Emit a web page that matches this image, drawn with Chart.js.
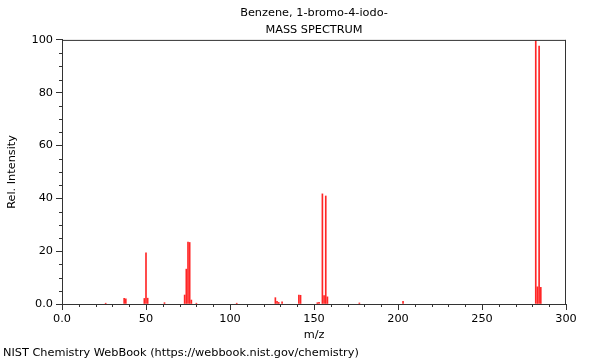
<!DOCTYPE html>
<html>
<head>
<meta charset="utf-8">
<script src="https://cdn.jsdelivr.net/npm/chart.js@4.4.1/dist/chart.umd.min.js"></script>
<style>
  html, body { margin: 0; padding: 0; background: #fff; }
  #c { display: block; }
</style>
</head>
<body>
<canvas id="c" width="600" height="360"></canvas>
<script>
// ---- data ----
const titleLines = ['Benzene, 1-bromo-4-iodo-', 'MASS SPECTRUM'];
const footerText = 'NIST Chemistry WebBook (https://webbook.nist.gov/chemistry)';
const mz =        [26,  37,  38,  49,  50,   51,  61,  73,  74,   75,   76,   77,  80,  104, 127, 128, 129, 131, 141, 142, 152, 153, 155,  156, 157,  158, 177, 203, 282, 283, 284,  285];
const intensity = [0.3, 2.1, 2.0, 2.1, 19.4, 2.2, 0.5, 3.4, 13.2, 23.4, 23.3, 1.5, 0.3, 0.3, 2.4, 1.0, 0.6, 0.8, 3.4, 3.3, 0.5, 0.6, 41.7, 3.2, 40.9, 2.7, 0.4, 1.0, 100, 6.5, 97.7, 6.3];
const xTicks = [0, 50, 100, 150, 200, 250, 300];
const yTicks = [0, 20, 40, 60, 80, 100];

const FONT = 'DejaVu Sans';
const FS = 11.3;
const points = mz.map((m, i) => ({ x: m, y: intensity[i] }));

const frame = {
  id: 'frame',
  afterDraw(chart) {
    const { ctx, chartArea: { left, right, top, bottom }, scales: { x, y } } = chart;
    ctx.save();
    ctx.strokeStyle = '#333';
    ctx.lineWidth = 1;
    ctx.beginPath();
    ctx.moveTo(left, top + 0.5); ctx.lineTo(right, top + 0.5);
    ctx.moveTo(right - 0.5, top); ctx.lineTo(right - 0.5, bottom);
    // minor ticks
    for (let v = 0; v <= 300; v += 10) {
      if (v % 50 === 0) continue;
      const px = Math.round(x.getPixelForValue(v)) + 0.5;
      ctx.moveTo(px, bottom); ctx.lineTo(px, bottom + 3);
    }
    for (let v = 0; v <= 100; v += 5) {
      if (v % 20 === 0) continue;
      const py = Math.round(y.getPixelForValue(v)) + 0.5;
      ctx.moveTo(left - 3, py); ctx.lineTo(left, py);
    }
    ctx.stroke();
    ctx.fillStyle = '#000';
    ctx.font = FS + 'px "' + FONT + '"';
    ctx.textBaseline = 'middle';
    ctx.textAlign = 'left';
    ctx.fillText(footerText, 3, 353);
    ctx.restore();
  }
};

new Chart(document.getElementById('c'), {
  type: 'bar',
  data: {
    datasets: [{
      data: points,
      backgroundColor: 'rgba(255,0,0,0.85)',
      borderWidth: 0,
      barThickness: 1
    }]
  },
  options: {
    responsive: false,
    devicePixelRatio: 1,
    animation: false,
    layout: { padding: { left: 0, right: 34, top: 0, bottom: 16 } },
    plugins: {
      legend: { display: false },
      tooltip: { enabled: false },
      title: {
        display: true,
        text: titleLines,
        fullSize: false,
        color: '#000',
        font: { family: FONT, size: FS, weight: 'normal', lineHeight: 1.5 },
        padding: { top: 5, bottom: 1 }
      }
    },
    scales: {
      x: {
        type: 'linear',
        min: 0, max: 300,
        offset: false,
        afterBuildTicks: s => { s.ticks = xTicks.map(v => ({ value: v })); },
        afterFit: s => { s.height = 40; },
        grid: { display: true, drawOnChartArea: false, offset: false, tickLength: 6, color: '#333' },
        border: { display: true, color: '#333' },
        ticks: {
          color: '#000', padding: 2, maxRotation: 0, autoSkip: false,
          font: { family: FONT, size: FS },
          callback: v => v === 0 ? '0.0' : String(v)
        },
        title: {
          display: true, text: 'm/z', color: '#000',
          font: { family: FONT, size: FS }, padding: { top: 0, bottom: 2 }
        }
      },
      y: {
        type: 'linear',
        min: 0, max: 100,
        afterBuildTicks: s => { s.ticks = yTicks.map(v => ({ value: v })); },
        afterFit: s => { s.width = 62; },
        grid: { display: true, drawOnChartArea: false, tickLength: 6, color: '#333' },
        border: { display: true, color: '#333' },
        ticks: {
          color: '#000', padding: 3, autoSkip: false,
          font: { family: FONT, size: FS },
          callback: v => v === 0 ? '0.0' : String(v)
        },
        title: {
          display: true, text: 'Rel. Intensity', color: '#000',
          font: { family: FONT, size: FS }, padding: { top: 5.5, bottom: 0 }
        }
      }
    }
  },
  plugins: [frame]
});
</script>
</body>
</html>
